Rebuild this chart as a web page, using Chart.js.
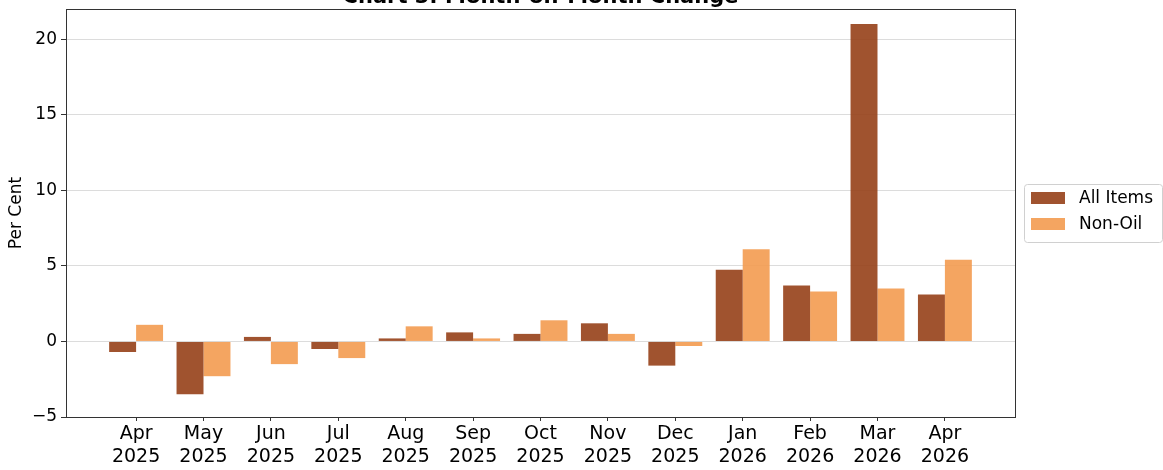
<!DOCTYPE html>
<html>
<head>
<meta charset="utf-8">
<script src="https://cdn.jsdelivr.net/npm/chart.js@4.4.1/dist/chart.umd.min.js"></script>
<style>
  html, body { margin: 0; padding: 0; background: #ffffff; }
  #wrap { width: 1163px; height: 470px; position: relative; overflow: hidden; }
  canvas { display: block; }
</style>
</head>
<body>
<div id="wrap"><canvas id="c" width="1163" height="470"></canvas></div>
<script>
const chartTitle = "Chart 3: Month-on-Month Change";
const yAxisTitle = "Per Cent";
const months = ["Apr", "May", "Jun", "Jul", "Aug", "Sep", "Oct", "Nov", "Dec", "Jan", "Feb", "Mar", "Apr"];
const years = ["2025", "2025", "2025", "2025", "2025", "2025", "2025", "2025", "2025", "2026", "2026", "2026", "2026"];
const allItems = [-0.7, -3.5, 0.3, -0.5, 0.2, 0.6, 0.5, 1.2, -1.6, 4.75, 3.7, 21.0, 3.1];
const nonOil = [1.1, -2.3, -1.5, -1.1, 1.0, 0.2, 1.4, 0.5, -0.3, 6.1, 3.3, 3.5, 5.4];
const yTicks = [-5, 0, 5, 10, 15, 20];

const FONT = "'DejaVu Sans', sans-serif";

const toPoints = arr => arr.map((v, i) => ({ x: i, y: v }));

const framePlugin = {
  id: 'frame',
  afterDraw(chart) {
    const { ctx, chartArea: a } = chart;
    ctx.save();
    ctx.strokeStyle = '#333333';
    ctx.lineWidth = 1;
    ctx.strokeRect(Math.round(a.left) + 0.5, Math.round(a.top) + 0.5, Math.round(a.right - a.left), Math.round(a.bottom - a.top));
    ctx.fillStyle = '#000000';
    ctx.font = "bold 21px " + FONT;
    ctx.textAlign = 'center';
    ctx.textBaseline = 'alphabetic';
    ctx.fillText(chartTitle, (a.left + a.right) / 2, 3);
    const lx = 1024, ly = 184, lw = 138, lh = 58;
    ctx.beginPath();
    ctx.roundRect(lx + 0.5, ly + 0.5, lw, lh, 3);
    ctx.fillStyle = 'rgba(255,255,255,0.8)';
    ctx.fill();
    ctx.strokeStyle = '#d0d0d0';
    ctx.stroke();
    ctx.font = "17px " + FONT;
    ctx.textAlign = 'left';
    ctx.textBaseline = 'middle';
    chart.data.datasets.forEach((ds, i) => {
      const y = ly + 8 + i * 26;
      ctx.fillStyle = ds.backgroundColor;
      ctx.fillRect(lx + 7, y, 34, 12);
      ctx.fillStyle = '#000000';
      ctx.fillText(ds.label, lx + 55, y + 7);
    });
    ctx.restore();
  }
};

new Chart(document.getElementById('c'), {
  type: 'bar',
  data: {
    datasets: [
      {
        label: 'All Items',
        data: toPoints(allItems),
        backgroundColor: 'rgba(150,64,24,0.9)',
        borderWidth: 0,
        categoryPercentage: 0.8,
        barPercentage: 1.0
      },
      {
        label: 'Non-Oil',
        data: toPoints(nonOil),
        backgroundColor: 'rgba(243,155,80,0.9)',
        borderWidth: 0,
        categoryPercentage: 0.8,
        barPercentage: 1.0
      }
    ]
  },
  options: {
    responsive: false,
    animation: false,
    devicePixelRatio: 1,
    layout: { padding: { top: 9, left: 0, right: 148, bottom: 0 } },
    plugins: {
      legend: { display: false },
      title: { display: false },
      tooltip: { enabled: false }
    },
    scales: {
      x: {
        type: 'linear',
        offset: false,
        min: -1.04,
        max: 13.04,
        afterBuildTicks: s => { s.ticks = months.map((_, i) => ({ value: i })); },
        afterFit: s => { s.height = 53; s.paddingLeft = 0; s.paddingRight = 0; },
        grid: { display: true, drawOnChartArea: false, drawTicks: true, tickLength: 4, tickColor: '#333333', offset: false },
        border: { display: true, color: '#333333', width: 1 },
        ticks: {
          autoSkip: false,
          maxRotation: 0,
          minRotation: 0,
          padding: 2,
          color: '#000000',
          font: { family: FONT, size: 19, lineHeight: 1.2 },
          callback: v => [months[v], years[v]]
        }
      },
      y: {
        min: -5,
        max: 22,
        afterBuildTicks: s => { s.ticks = yTicks.map(v => ({ value: v })); },
        afterFit: s => { s.width = 66; s.paddingTop = 0; s.paddingBottom = 0; },
        grid: { color: '#dcdcdc', lineWidth: 1, drawTicks: true, tickLength: 5, tickColor: '#333333' },
        border: { display: true, color: '#333333', width: 1 },
        ticks: {
          padding: 4,
          color: '#000000',
          font: { family: FONT, size: 17 },
          callback: v => (v < 0 ? '\u2212' + Math.abs(v) : String(v))
        },
        title: {
          display: true,
          text: yAxisTitle,
          color: '#000000',
          font: { family: FONT, size: 17 },
          padding: { top: 6, bottom: 0 }
        }
      }
    }
  },
  plugins: [framePlugin]
});
</script>
</body>
</html>
